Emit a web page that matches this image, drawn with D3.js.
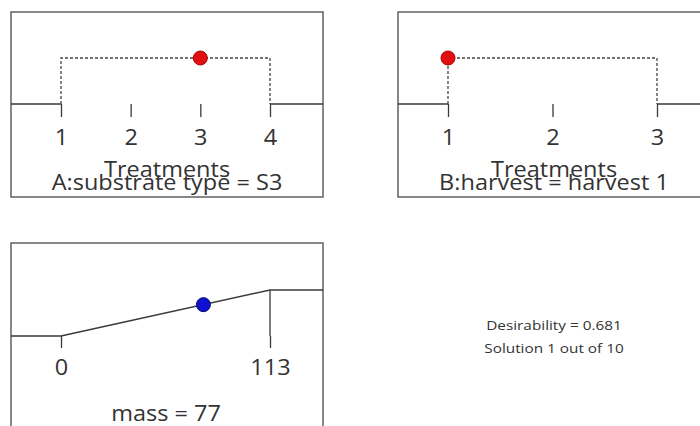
<!DOCTYPE html>
<html><head><meta charset="utf-8">
<script src="https://cdn.jsdelivr.net/npm/d3@7/dist/d3.min.js"></script>
<style>body{margin:0;background:#fff;} text{font-family:"Open Sans",sans-serif;fill:#333;}</style>
</head><body>
<svg id="c" width="700" height="426"></svg>
<script>
// Data
const levelsA = [1, 2, 3, 4];
const selectedA = 3;
const labelA = "A:substrate type = S3";
const levelsB = [1, 2, 3];
const selectedB = 1;
const labelB = "B:harvest = harvest 1";
const axisTitle = "Treatments";
const massRange = [0, 113];
const massValue = 77;
const labelMass = "mass = 77";
const desirability = 0.681;
const solutionText = "Solution 1 out of 10";

const svg = d3.select("#c");
const W = 312, padL = 50, padR = 53, baseOff = 92, rampH = 46;
const lineCol = "#3a3a3a", boxCol = "#555";
const FS = 21, SX = 1.12;

function label(g, x, y, txt, fs, sx) {
  return g.append("text").attr("transform", `translate(${x},${y}) scale(${sx},1)`)
    .attr("text-anchor", "middle").attr("font-size", fs).text(txt);
}

function box(g, h) {
  g.append("rect").attr("x", 0).attr("y", 0).attr("width", W).attr("height", h)
    .attr("fill", "none").attr("stroke", boxCol).attr("stroke-width", 1.4);
}

function styleAxis(ax, ty) {
  ax.select(".domain").remove();
  ax.selectAll(".tick line").attr("stroke", lineCol).attr("stroke-width", 1.3);
  ax.selectAll(".tick text").attr("font-size", FS).attr("fill", "#333").attr("font-family", "Open Sans")
    .attr("dy", 0).attr("y", 0).attr("transform", `translate(0,${ty}) scale(${SX},1)`);
}

function factorPanel(x0, y0, levels, sel, lab) {
  const g = svg.append("g").attr("transform", `translate(${x0},${y0})`);
  box(g, 185);
  const x = d3.scaleLinear().domain([levels[0], levels[levels.length - 1]]).range([padL, W - padR]);
  const y = d3.scaleLinear().domain([0, 1]).range([baseOff, baseOff - rampH]);
  const lo = levels[0], hi = levels[levels.length - 1];
  g.append("line").attr("x1", 0).attr("x2", x(lo)).attr("y1", y(0)).attr("y2", y(0)).attr("stroke", lineCol).attr("stroke-width", 1.3);
  g.append("line").attr("x1", x(hi)).attr("x2", W).attr("y1", y(0)).attr("y2", y(0)).attr("stroke", lineCol).attr("stroke-width", 1.3);
  const path = d3.line().x(d => x(d[0])).y(d => y(d[1]));
  g.append("path").attr("d", path([[lo, 0], [lo, 1], [hi, 1], [hi, 0]]))
    .attr("fill", "none").attr("stroke", "#444").attr("stroke-width", 1.3).attr("stroke-dasharray", "3,2");
  const ax = g.append("g").attr("transform", `translate(0,${y(0)})`)
    .call(d3.axisBottom(x).tickValues(levels).tickFormat(d3.format("d")).tickSize(13));
  styleAxis(ax, 41);
  label(g, W / 2, 165, axisTitle, FS, SX);
  label(g, W / 2, 178, lab, FS, SX);
  g.append("circle").attr("cx", x(sel)).attr("cy", y(1)).attr("r", 7)
    .attr("fill", "#e01010").attr("stroke", "#a00").attr("stroke-width", 1);
}

factorPanel(11, 12, levelsA, selectedA, labelA);
factorPanel(398, 12, levelsB, selectedB, labelB);

// mass panel
(function () {
  const g = svg.append("g").attr("transform", `translate(11,243)`);
  box(g, 200);
  const x = d3.scaleLinear().domain(massRange).range([padL, W - padR]);
  const y = d3.scaleLinear().domain([0, 1]).range([93, 93 - rampH]);
  const frac = d => (d - massRange[0]) / (massRange[1] - massRange[0]);
  const path = d3.line().x(d => d[0]).y(d => d[1]);
  g.append("path").attr("d", path([[0, y(0)], [x(massRange[0]), y(0)], [x(massRange[1]), y(1)], [W, y(1)]]))
    .attr("fill", "none").attr("stroke", lineCol).attr("stroke-width", 1.4);
  const ax = g.append("g").attr("transform", `translate(0,${y(0)})`)
    .call(d3.axisBottom(x).tickValues(massRange).tickFormat(d3.format("d")).tickSize(12));
  styleAxis(ax, 39);
  g.append("line").attr("x1", x(massRange[1])).attr("x2", x(massRange[1])).attr("y1", y(1)).attr("y2", y(0))
    .attr("stroke", lineCol).attr("stroke-width", 1.3);
  label(g, W / 2 - 1, 178, labelMass, FS, SX);
  g.append("circle").attr("cx", x(massValue)).attr("cy", y(frac(massValue))).attr("r", 7)
    .attr("fill", "#1010d0").attr("stroke", "#006").attr("stroke-width", 1);
})();

label(svg, 554, 330, "Desirability = " + desirability.toFixed(3), 13, 1.18);
label(svg, 554, 353, solutionText, 13, 1.18);
</script>
</body></html>
